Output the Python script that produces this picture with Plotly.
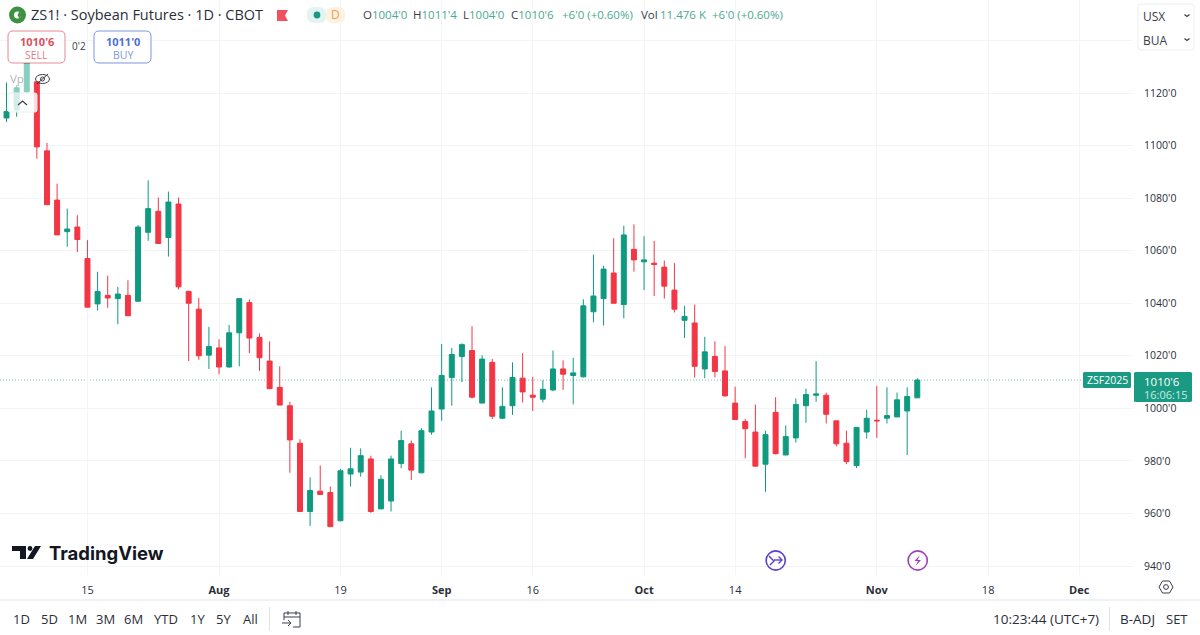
import plotly.graph_objects as go

# ---- data (cents per bushel) ----
opens = [1110.5,1113.5,1120.5,1124.25,1098,1079.25,1067.25,1069,1057,1039.75,1043,1041.75,1043,1040.75,1067,1075,1065,1077.75,1044.5,1037.75,1020.25,1023,1015.75,1028.75,1040.25,1027,1018,1008,1001,986.75,960.75,968.5,968,957.25,975,975.75,980.75,961.75,964.75,979,986.5,975.5,991,999.75,1011.75,1019.75,1022,1002,1017.5,996.25,1001,1011.5,1005,1003.5,1007,1015,1012.5,1012,1036.75,1041.75,1051.5,1039.5,1060.5,1055.75,1055.25,1053.75,1045,1033.5,1032.5,1015,1019.75,1014.25,1002,995,991,978.75,998.5,982.25,988.75,1001,1005,1005,995.25,986.75,978.25,991,995.5,996.25,996.75,999,1004]
highs = [1124,1123,1140,1124.5,1101,1085.5,1076,1073.5,1064,1052,1050.5,1046.25,1048.75,1069.75,1086.75,1080.25,1082.5,1080.25,1044.75,1042,1031,1026.25,1031.75,1042,1041.5,1028.5,1025.5,1016,1002.5,988.25,973.75,978.25,970.25,977,985,984.75,982,974.5,982,991.5,987.75,992.5,1008,1024.5,1023,1024.75,1031.25,1020.25,1018.75,1008,1017.5,1021,1012,1010.75,1022,1018.25,1019.25,1041.5,1058.5,1054.25,1064.75,1069.5,1070,1065.5,1063.75,1056.25,1055.25,1039,1039.5,1027.25,1025.5,1023.75,1008.25,996,1001.5,991.5,1004.25,993.5,1003.75,1007.5,1018,1006,995.25,991.5,992.75,999.5,1008.5,1008,1006,1008,1011.5]
lows = [1109,1111,1120,1095,1077.5,1066,1061.5,1059.5,1038.5,1037.25,1038.25,1032,1035.25,1040.5,1063.75,1062.75,1057.75,1045.25,1018,1018.5,1015,1013,1015.5,1016,1021,1014.25,1007.5,1001.25,975.5,960.75,955.25,967.25,955,957,970.25,974,960.25,961.75,960.75,977.25,972.75,975.25,990,995.25,1001,1010,1003.75,1002,996,996,997.5,1002.25,999,1002.25,1006.5,1007,1001.5,1011.75,1032.75,1031.5,1040,1034.25,1052,1045,1042.75,1041.75,1036.5,1026.75,1011.75,1011.5,1011.75,1004.5,995.75,981,978,968.25,982.5,982.25,987,994.5,1002.5,994.25,985.5,978.75,977.25,988.5,988.75,994.25,996.75,982.25,1004]
closes = [1113,1122,1136,1099.5,1077.5,1066,1068.25,1064.25,1038.5,1044.5,1042,1043.5,1035.25,1069,1076,1062.75,1078.5,1046.25,1040,1020,1023.5,1015.75,1028.75,1041.75,1026.75,1019.25,1007.5,1001.25,988,960.75,968.75,967.25,955,976.25,977,982,960.75,973,980.75,987.75,976.5,991.5,999,1012.5,1020.5,1024.25,1004.25,1018.75,997,1000.75,1011.75,1006.25,1004.25,1007.25,1015,1013,1013.5,1039,1042.75,1053,1040,1066,1056.5,1056.5,1054.75,1046.5,1037.75,1035,1016,1021.5,1014,1004.75,995.75,992.25,978,990,982.75,989.25,1001.5,1005.25,1005.5,997.75,986.5,979.75,992.75,996.25,995.25,997.25,1003.25,1004.5,1010.75]

date_tick_index = [8, 21, 33, 43, 52, 63, 72, 86, 97, 106]
date_tick_labels = ["15", "<b>Aug</b>", "19", "<b>Sep</b>", "16", "<b>Oct</b>", "14", "<b>Nov</b>", "18", "<b>Dec</b>"]
price_ticks = [1140, 1120, 1100, 1080, 1060, 1040, 1020, 1000, 980, 960, 940]
price_labels = ["", "1120'0", "1100'0", "1080'0", "1060'0", "1040'0", "1020'0", "1000'0", "980'0", "960'0", "940'0"]

W, H = 1200, 635
UP, DOWN = "#0f9a80", "#f23645"
FONT = "Open Sans"
TXT = "#3a3e4a"

fig = go.Figure(go.Candlestick(
    x=list(range(len(opens))), open=opens, high=highs, low=lows, close=closes,
    whiskerwidth=0,
    increasing=dict(line=dict(color=UP, width=1), fillcolor=UP),
    decreasing=dict(line=dict(color=DOWN, width=1), fillcolor=DOWN),
    hoverinfo="skip",
))

px = lambda x: x / W
py = lambda y: 1 - y / H
shapes, notes = [], []

def P(pts, close=False):
    s = "M " + " L ".join(f"{px(x):.5f},{py(y):.5f}" for x, y in pts)
    return s + (" Z" if close else "")

def path(pts, fill=None, line=None, w=1, close=True, layer="above"):
    shapes.append(dict(type="path", path=P(pts, close), xref="paper", yref="paper", layer=layer,
                       fillcolor=fill or "rgba(0,0,0,0)", line=dict(color=line or "rgba(0,0,0,0)", width=w)))

def rrect(x0, y0, x1, y1, r, fill=None, line=None, w=1):
    def C(a, b): return f"{px(a):.5f},{py(b):.5f}"
    s = (f"M {C(x0+r,y0)} L {C(x1-r,y0)} Q {C(x1,y0)} {C(x1,y0+r)} L {C(x1,y1-r)} Q {C(x1,y1)} {C(x1-r,y1)} "
         f"L {C(x0+r,y1)} Q {C(x0,y1)} {C(x0,y1-r)} L {C(x0,y0+r)} Q {C(x0,y0)} {C(x0+r,y0)} Z")
    shapes.append(dict(type="path", path=s, xref="paper", yref="paper", layer="above",
                       fillcolor=fill or "rgba(0,0,0,0)", line=dict(color=line or "rgba(0,0,0,0)", width=w)))

def circle(cx, cy, r, fill=None, line=None, w=1, ry=None):
    ry = r if ry is None else ry
    shapes.append(dict(type="circle", xref="paper", yref="paper", layer="above",
                       x0=px(cx-r), x1=px(cx+r), y0=py(cy+ry), y1=py(cy-ry),
                       fillcolor=fill or "rgba(0,0,0,0)", line=dict(color=line or "rgba(0,0,0,0)", width=w)))

def text(x, y, s, size=12, color=TXT, anchor="left", family=FONT):
    notes.append(dict(x=px(x), y=py(y), xref="paper", yref="paper", text=s, showarrow=False,
                      xanchor=anchor, yanchor="middle", borderpad=0,
                      font=dict(size=size, color=color, family=family)))

# last-price dotted line
shapes.append(dict(type="line", xref="paper", yref="y", x0=0, x1=px(1083), y0=closes[-1], y1=closes[-1],
                   layer="below", line=dict(color="rgba(8,153,129,0.6)", width=1, dash="1px,2px")))

# faded legend region
path([(8, 64), (32, 64), (32, 93), (8, 93)], fill="rgba(255,255,255,0.5)")
rrect(8, 93, 37, 112, 2, fill="rgba(255,255,255,0.82)", line="#eceef2")
path([(18, 105), (22.5, 101), (27, 105)], line="#3a3e4a", w=1.2, close=False)
text(9, 79, "Vp", 11.5, "#b2b5be")
circle(42.5, 79, 7, line="#3a3e4a", w=1, ry=4.5)
path([(37, 84), (48, 74)], line="#3a3e4a", w=1, close=False)
circle(42.5, 79, 2, line="#3a3e4a", w=1)

# header
circle(17.5, 15, 6, line="#3f9142", w=5)
path([(19.5, 11), (21.5, 15), (19.5, 19), (17.5, 15)], fill="#3f9142")
text(30, 15, "ZS1! · Soybean Futures · 1D · CBOT", 14.5, "#2a2e39")
path([(277, 10), (288, 10), (285, 15.5), (288, 21), (277, 21)], fill="#f0505f")
rrect(307, 7, 326, 23, 7, fill="#e3f4f0")
rrect(326, 7, 345, 23, 7, fill="#fdf1e2")
circle(317, 15, 3.4, fill="#1a9a82")
text(335, 15, "D", 12, "#f0a04a", "center")
grn = "#4aa98f"
hdr = [(362, "O", "1004'0"), (412, "H", "1011'4"), (462, "L", "1004'0"), (510, "C", "1010'6")]
for x, k, v in hdr:
    text(x, 15, f'<span style="color:#3a3e4a">{k}</span><span style="color:{grn}">{v}</span>', 11.5)
text(561, 15, "+6'0 (+0.60%)", 11.5, grn)
text(640, 15, "Vol", 11.5, "#3a3e4a")
text(659, 15, "11.476 K", 11.5, grn)
text(711, 15, "+6'0 (+0.60%)", 11.5, grn)

# buy / sell
rrect(8, 31, 65, 63, 5, fill="#ffffff", line="#e58a94")
text(36.5, 41, "<b>1010'6</b>", 11, "#d9505f", "center")
text(36.5, 54.5, "SELL", 10.5, "#e57a86", "center")
text(79, 46, "0'2", 10, "#3a3e4a", "center")
rrect(94, 31, 151, 63, 5, fill="#ffffff", line="#7d97dd")
text(122.5, 41, "<b>1011'0</b>", 11, "#4f6fcf", "center")
text(122.5, 54.5, "BUY", 10.5, "#7d97dd", "center")

# unit dropdowns
rrect(1138, 4, 1194, 50, 3, fill="#ffffff", line="#eceef2")
text(1142, 16, "USX", 12, "#3a3e4a")
text(1142, 40, "BUA", 12, "#3a3e4a")
for cy in (15.5, 39.5):
    path([(1184.5, cy-1), (1187, cy+1), (1189.5, cy-1)], line="#3a3e4a", w=1.2, close=False)

# last price tags
rrect(1083, 372, 1131, 388, 1.5, fill="#1a9a82")
text(1107, 380, "ZSF2025", 10.5, "#ffffff", "center")
rrect(1134, 372, 1192, 402, 1.5, fill="#1a9a82")
text(1143, 381, "1010'6", 11.5, "#ffffff")
text(1143, 394, "16:06:15", 11, "#c8ece4")

# logo
path([(12, 546), (26, 546), (26, 559), (20, 559), (20, 551), (12, 551)], fill="#131722")
circle(30, 548.5, 2.4, fill="#131722")
path([(35, 546), (41, 546), (33, 559), (27, 559)], fill="#131722")
text(48, 553, "<b>TradingView</b>", 18.5, "#131722", family="Inter")

# event icons
circle(775.7, 560.5, 9.6, line="#5a3fd0", w=1.6)
path([(769, 556), (774, 561), (770, 565)], line="#5a3fd0", w=1.4, close=False)
path([(774, 560), (782, 560)], line="#5a3fd0", w=1.4, close=False)
path([(778.5, 556.5), (782, 560), (778.5, 563.5)], line="#5a3fd0", w=1.4, close=False)
circle(917.7, 560.5, 9.6, line="#9c3fbe", w=1.6)
path([(920, 555), (914.5, 561), (918, 561), (915.5, 566), (921, 560), (917.5, 560)], fill="#9c3fbe")

# bottom toolbar
path([(0, 600), (1200, 600)], line="#e0e3eb", close=False)
for x, s in [(21.7, "1D"), (49, "5D"), (77, "1M"), (105, "3M"), (133.7, "6M"), (165.7, "YTD"),
             (197, "1Y"), (223.3, "5Y"), (250.7, "All")]:
    text(x, 619, s, 13, "#2a2e39", "center")
path([(269.5, 607), (269.5, 631)], line="#e0e3eb", close=False)
path([(284, 620), (284, 613), (300, 613), (300, 627), (293, 627)], line="#3a3e4a", close=False)
path([(284, 617), (300, 617)], line="#3a3e4a", close=False)
path([(288, 611), (288, 615)], line="#3a3e4a", close=False)
path([(296, 611), (296, 615)], line="#3a3e4a", close=False)
path([(282, 623), (291, 623)], line="#3a3e4a", close=False)
path([(288, 620), (291, 623), (288, 626)], line="#3a3e4a", close=False)
text(1046, 619, "10:23:44 (UTC+7)", 13.5, "#2a2e39", "center")
path([(1109.5, 607), (1109.5, 631)], line="#e0e3eb", close=False)
text(1137, 619, "B-ADJ", 13.5, "#2a2e39", "center")
text(1177, 619, "SET", 13, "#2a2e39", "center")

# settings hexagon
path([(1159, 587), (1162.5, 581), (1169.5, 581), (1173, 587), (1169.5, 593), (1162.5, 593)], line="#3a3e4a")
circle(1166, 587, 2.4, line="#3a3e4a")

x_left = (0 - 6.5) / 10.12
x_right = (1133 - 6.5) / 10.12
fig.update_layout(
    width=W, height=H, margin=dict(l=0, r=0, t=0, b=0), autosize=False,
    paper_bgcolor="#ffffff", plot_bgcolor="#ffffff", showlegend=False,
    font=dict(family=FONT, size=11.5, color="#2a2e39"),
    shapes=shapes, annotations=notes,
    xaxis=dict(domain=[0, 1133 / W], range=[x_left, x_right], rangeslider=dict(visible=False),
               tickmode="array", tickvals=date_tick_index, ticktext=date_tick_labels,
               showgrid=True, gridcolor="#f3f4f6", gridwidth=1, zeroline=False, showline=False,
               ticks="outside", ticklen=5, tickcolor="rgba(0,0,0,0)", tickangle=0,
               tickfont=dict(size=11, color="#2a2e39")),
    yaxis=dict(domain=[1 - 575 / H, 1], range=[936.59, 1155.39], side="right",
               tickmode="array", tickvals=price_ticks, ticktext=price_labels,
               showgrid=True, gridcolor="#f3f4f6", gridwidth=1, zeroline=False, showline=False,
               ticks="outside", ticklen=8, tickcolor="rgba(0,0,0,0)",
               tickfont=dict(size=10.5, color="#2a2e39")),
)

fig.write_html("out.html", config=dict(displayModeBar=False),
               post_script="document.body.style.margin='0';document.body.style.overflow='hidden';")
